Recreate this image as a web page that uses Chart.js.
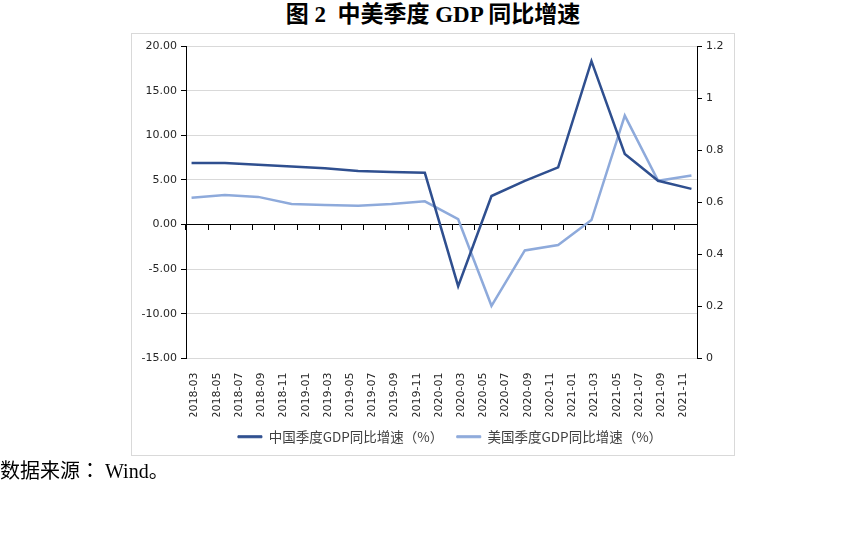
<!DOCTYPE html>
<html>
<head>
<meta charset="utf-8">
<script src="https://cdn.jsdelivr.net/npm/chart.js@4/dist/chart.umd.min.js"></script>
<style>
  html, body { margin: 0; padding: 0; background: #fff; }
  body { width: 865px; height: 533px; position: relative; overflow: hidden; }
  #title { position: absolute; left: 0; top: 3px; width: 866px; text-align: center;
    font: bold 23px "Liberation Serif", "Noto Sans CJK SC", serif; line-height: 24px; color: #000; }
  #box { position: absolute; left: 131px; top: 33px; width: 602px; height: 421px; border: 1px solid #d9d9d9; }
  #wrap { position: absolute; left: 131px; top: 33px; width: 638px; height: 423px; }
  #foot { position: absolute; left: 0; top: 458px; font: 20px "Liberation Serif", "Noto Sans CJK SC", serif;
    line-height: 24px; color: #000; }
  #foot .c { font-family: "Noto Sans CJK JP", "Noto Sans CJK SC", sans-serif; }
</style>
</head>
<body>
<div id="title">图 2&nbsp;&nbsp;中美季度 GDP 同比增速</div>
<div id="box"></div>
<div id="wrap"><canvas id="c"></canvas></div>
<div id="foot">数据来源<span class="c">：</span>&nbsp;Wind。</div>
<script>
// Monthly categories of the date axis
const monthLabels = [
  '2018-03','2018-04','2018-05','2018-06','2018-07','2018-08','2018-09','2018-10','2018-11','2018-12',
  '2019-01','2019-02','2019-03','2019-04','2019-05','2019-06','2019-07','2019-08','2019-09','2019-10','2019-11','2019-12',
  '2020-01','2020-02','2020-03','2020-04','2020-05','2020-06','2020-07','2020-08','2020-09','2020-10','2020-11','2020-12',
  '2021-01','2021-02','2021-03','2021-04','2021-05','2021-06','2021-07','2021-08','2021-09','2021-10','2021-11','2021-12'
];
// Quarterly observation dates
const quarterLabels = [
  '2018-03','2018-06','2018-09','2018-12',
  '2019-03','2019-06','2019-09','2019-12',
  '2020-03','2020-06','2020-09','2020-12',
  '2021-03','2021-06','2021-09','2021-12'
];
const chinaGDP = [6.9, 6.9, 6.7, 6.5, 6.3, 6.0, 5.9, 5.8, -6.9, 3.2, 4.9, 6.4, 18.3, 7.9, 4.9, 4.0];
const usGDP    = [3.0, 3.3, 3.1, 2.3, 2.2, 2.1, 2.3, 2.6, 0.6, -9.1, -2.9, -2.3, 0.5, 12.2, 4.9, 5.5];
const leftTicks = { min: -15, max: 20, step: 5 };
const rightTicks = { min: 0, max: 1.2, step: 0.2 };
const seriesNames = ['中国季度GDP同比增速（%）', '美国季度GDP同比增速（%）'];
const colChina = '#2F4F8F';
const colUS = '#8EAADB';

const toPoints = vals => vals.map((v, i) => ({ x: quarterLabels[i], y: v }));
const axisFont = { family: 'DejaVu Sans', size: 11 };

new Chart(document.getElementById('c'), {
  type: 'line',
  data: {
    labels: monthLabels,
    datasets: [
      { label: seriesNames[0], data: toPoints(chinaGDP), borderColor: colChina, backgroundColor: colChina,
        borderWidth: 2.5, pointRadius: 0, tension: 0, xAxisID: 'x', yAxisID: 'y' },
      { label: seriesNames[1], data: toPoints(usGDP), borderColor: colUS, backgroundColor: colUS,
        borderWidth: 2.5, pointRadius: 0, tension: 0, xAxisID: 'x', yAxisID: 'y' }
    ]
  },
  options: {
    responsive: true,
    maintainAspectRatio: false,
    animation: false,
    layout: { padding: { top: 13, bottom: 2.5, left: 0, right: 0 } },
    plugins: {
      tooltip: { enabled: false },
      legend: {
        position: 'bottom',
        labels: {
          boxWidth: 24, boxHeight: 2, padding: 13.5, color: '#404040',
          font: { family: 'Noto Sans CJK SC', size: 13.5 },
          generateLabels: chart => Chart.defaults.plugins.legend.labels.generateLabels(chart).map(it => {
            it.lineWidth = 1; it.fillStyle = it.strokeStyle; return it;
          })
        }
      }
    },
    scales: {
      x: {
        type: 'category', position: 'bottom', offset: true,
        grid: { display: false }, border: { display: false },
        ticks: { autoSkip: false, maxRotation: 90, minRotation: 90, padding: 6, labelOffset: 3,
          color: '#262626', font: axisFont,
          callback: function (v, i) { return i % 2 === 0 ? this.getLabelForValue(v) : ''; } },
        afterFit: s => { s.height = 58; }
      },
      x0: {
        type: 'category', position: { y: 0 }, offset: true,
        grid: { display: true, drawOnChartArea: false, drawTicks: true, tickLength: 5, offset: true,
          tickColor: ctx => (ctx.index === undefined || ctx.index % 2 === 0) ? '#000' : 'rgba(0,0,0,0)' },
        border: { display: true, color: '#000', width: 1 },
        ticks: { display: false }
      },
      y: {
        position: 'left', min: leftTicks.min, max: leftTicks.max,
        ticks: { stepSize: leftTicks.step, color: '#262626', font: axisFont, padding: 4,
          callback: v => Number(v).toFixed(2) },
        grid: { color: '#d9d9d9', tickColor: '#000', tickLength: 5, lineWidth: 1 },
        border: { display: true, color: '#000', width: 1 },
        afterFit: s => { s.width = 55; }
      },
      y2: {
        position: 'right', min: rightTicks.min, max: rightTicks.max,
        ticks: { stepSize: rightTicks.step, color: '#262626', font: axisFont, padding: 4,
          callback: v => String(parseFloat(Number(v).toFixed(1))) },
        grid: { drawOnChartArea: false, tickColor: '#000', tickLength: 5 },
        border: { display: true, color: '#000', width: 1 },
        afterFit: s => { s.width = 72; }
      }
    }
  }
});
</script>
</body>
</html>
